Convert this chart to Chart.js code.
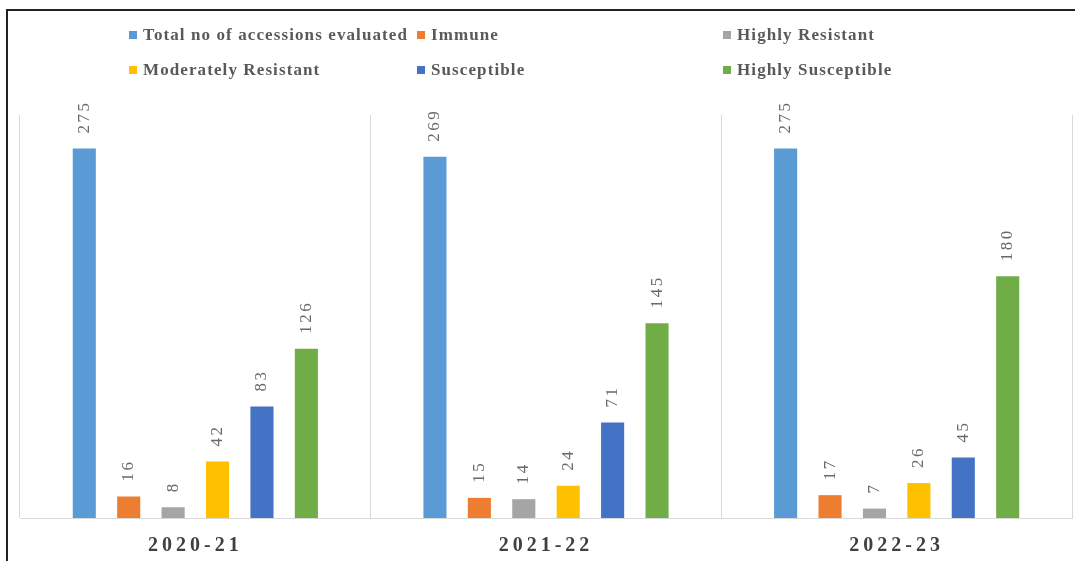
<!DOCTYPE html>
<html>
<head>
<meta charset="utf-8">
<script src="https://cdn.jsdelivr.net/npm/chart.js@4"></script>
<style>
  html, body { margin: 0; padding: 0; background: #fff; }
  #wrap { position: relative; width: 1075px; height: 561px; overflow: hidden; }
  #frame { position: absolute; left: 6px; top: 9px; width: 1100px; height: 600px;
           border: 2px solid #222; box-sizing: border-box; }
  canvas { position: absolute; left: 0; top: 0; }
</style>
</head>
<body>
<div id="wrap">
  <div id="frame"></div>
  <canvas id="chart" width="1075" height="561"></canvas>
</div>
<script>
// ===============================
// Dados do gráfico
// ===============================
const years = ["2020-21", "2021-22", "2022-23"];

const totalEvaluated = [275, 269, 275];
const immune = [16, 15, 17];
const highlyResistant = [8, 14, 7];
const moderatelyResistant = [42, 24, 26];
const susceptible = [83, 71, 45];
const highlySusceptible = [126, 145, 180];

const seriesNames = [
  "Total no of accessions evaluated",
  "Immune",
  "Highly Resistant",
  "Moderately Resistant",
  "Susceptible",
  "Highly Susceptible"
];
const seriesColors = ["#5B9BD5", "#ED7D31", "#A5A5A5", "#FFC000", "#4472C4", "#70AD47"];
const seriesValues = [totalEvaluated, immune, highlyResistant, moderatelyResistant, susceptible, highlySusceptible];

const SERIF = "'Liberation Serif', 'Times New Roman', serif";

// ===============================
// Legenda em 3 colunas (desenhada à mão)
// ===============================
const gridLegend = {
  id: "gridLegend",
  afterDraw(chart) {
    const ctx = chart.ctx;
    const cols = [129, 417, 723];
    const rows = [35, 70];
    ctx.save();
    ctx.letterSpacing = "1.1px";
    ctx.font = "bold 17px " + SERIF;
    ctx.textBaseline = "middle";
    ctx.textAlign = "left";
    chart.data.datasets.forEach((ds, i) => {
      const x = cols[i % 3];
      const y = rows[Math.floor(i / 3)];
      ctx.fillStyle = ds.backgroundColor;
      ctx.fillRect(x, y - 4, 8, 8);
      ctx.fillStyle = "#595959";
      ctx.fillText(ds.label, x + 14, y + 1);
    });
    ctx.restore();
  }
};

// ===============================
// Rótulos verticais em cima das barras
// ===============================
const barLabels = {
  id: "barLabels",
  beforeDraw(chart) {
    chart.ctx.letterSpacing = "4px";
  },
  afterDatasetsDraw(chart) {
    const ctx = chart.ctx;
    ctx.save();
    ctx.letterSpacing = "2.5px";
    ctx.font = "17px " + SERIF;
    ctx.fillStyle = "#6a6a6a";
    ctx.textAlign = "left";
    ctx.textBaseline = "middle";
    chart.data.datasets.forEach((ds, i) => {
      chart.getDatasetMeta(i).data.forEach((bar, j) => {
        ctx.save();
        ctx.translate(bar.x, bar.y - 15);
        ctx.rotate(-Math.PI / 2);
        ctx.fillText(String(ds.data[j]), 0, 0);
        ctx.restore();
      });
    });
    ctx.restore();
  }
};

new Chart(document.getElementById("chart"), {
  type: "bar",
  data: {
    labels: years,
    datasets: seriesNames.map((name, i) => ({
      label: name,
      data: seriesValues[i],
      backgroundColor: seriesColors[i],
      categoryPercentage: 0.76,
      barPercentage: 0.52
    }))
  },
  options: {
    responsive: false,
    animation: false,
    layout: { padding: { left: 20, right: 3, top: 115, bottom: 0 } },
    plugins: {
      legend: { display: false },
      tooltip: { enabled: false }
    },
    scales: {
      x: {
        grid: { display: true, offset: true, color: "#d9d9d9", drawTicks: false },
        border: { display: true, color: "#d9d9d9" },
        ticks: {
          color: "#404040",
          padding: 16,
          font: { family: SERIF, size: 20, weight: "bold" }
        },
        afterFit: s => { s.height = 43; }
      },
      y: {
        display: false,
        min: 0,
        max: 300
      }
    }
  },
  plugins: [gridLegend, barLabels]
});
</script>
</body>
</html>
